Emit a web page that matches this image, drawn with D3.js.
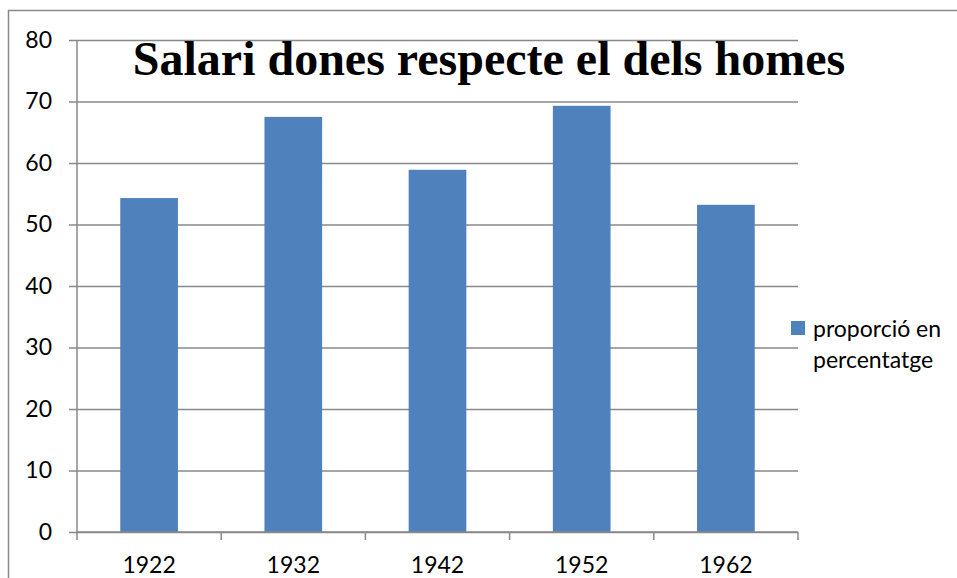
<!DOCTYPE html>
<html>
<head>
<meta charset="utf-8">
<script src="https://cdn.jsdelivr.net/npm/d3@7"></script>
<style>
  body { margin: 0; background: #fff; }
</style>
</head>
<body>
<div id="chart"></div>
<script>
var years = ["1922", "1932", "1942", "1952", "1962"],
    values = [54.3, 67.5, 58.9, 69.3, 53.2],
    yTicks = [0, 10, 20, 30, 40, 50, 60, 70, 80];

var title = "Salari dones respecte el dels homes",
    legendLines = ["proporció en", "percentatge"];

var width = 957, height = 578,
    plotLeft = 77, plotRight = 798, plotTop = 40, plotBottom = 532,
    barColor = "#4F81BD", lineColor = "#898989",
    labelFont = "Lato, 'Open Sans', sans-serif";

var svg = d3.select("#chart").append("svg")
    .attr("width", width)
    .attr("height", height);

// outer chart border (right & bottom fall outside the crop)
svg.append("rect")
    .attr("x", 8.5).attr("y", 10.5)
    .attr("width", 1000).attr("height", 1000)
    .attr("fill", "none")
    .attr("stroke", lineColor)
    .attr("stroke-width", 1.5);

var x = d3.scaleBand()
    .domain(years)
    .range([plotLeft, plotRight])
    .paddingInner(0.6)
    .paddingOuter(0.3);

var y = d3.scaleLinear()
    .domain([0, 80])
    .range([plotBottom, plotTop]);

// gridlines + y ticks
var yAxis = svg.append("g")
    .attr("transform", "translate(" + plotLeft + ",0)")
    .call(d3.axisLeft(y).tickValues(yTicks).tickSize(8));

yAxis.select(".domain").remove();
yAxis.selectAll(".tick line")
    .attr("x1", -8).attr("x2", plotRight - plotLeft)
    .attr("stroke", lineColor).attr("stroke-width", 1.5);
yAxis.selectAll(".tick text")
    .attr("x", -25)
    .attr("fill", "#000")
    .style("font-family", labelFont)
    .style("font-size", "23px");

// y axis line
svg.append("line")
    .attr("x1", plotLeft).attr("x2", plotLeft)
    .attr("y1", plotTop).attr("y2", plotBottom)
    .attr("stroke", lineColor).attr("stroke-width", 1.5);

// bars
svg.selectAll(".bar")
    .data(values)
    .enter().append("rect")
    .attr("class", "bar")
    .attr("x", function(d, i) { return x(years[i]); })
    .attr("y", function(d) { return y(d); })
    .attr("width", x.bandwidth())
    .attr("height", function(d) { return y(0) - y(d); })
    .attr("fill", barColor);

// x axis
var boundaries = d3.range(years.length + 1).map(function(i) {
  return plotLeft + i * (plotRight - plotLeft) / years.length;
});

svg.append("line")
    .attr("x1", plotLeft).attr("x2", plotRight)
    .attr("y1", plotBottom).attr("y2", plotBottom)
    .attr("stroke", lineColor).attr("stroke-width", 1.5);

svg.selectAll(".xtick")
    .data(boundaries)
    .enter().append("line")
    .attr("class", "xtick")
    .attr("x1", function(d) { return d; }).attr("x2", function(d) { return d; })
    .attr("y1", plotBottom).attr("y2", plotBottom + 8)
    .attr("stroke", lineColor).attr("stroke-width", 1.5);

svg.selectAll(".xlabel")
    .data(years)
    .enter().append("text")
    .attr("class", "xlabel")
    .attr("x", function(d) { return x(d) + x.bandwidth() / 2; })
    .attr("y", 573)
    .attr("text-anchor", "middle")
    .style("font-family", labelFont)
    .style("font-size", "23px")
    .text(function(d) { return d; });

// title
svg.append("text")
    .attr("x", 489)
    .attr("y", 75)
    .attr("text-anchor", "middle")
    .style("font-family", "'Liberation Serif', 'DejaVu Serif', serif")
    .style("font-weight", "bold")
    .style("font-size", "48px")
    .text(title);

// legend
svg.append("rect")
    .attr("x", 791).attr("y", 321)
    .attr("width", 14).attr("height", 14)
    .attr("fill", barColor);

svg.selectAll(".legend")
    .data(legendLines)
    .enter().append("text")
    .attr("class", "legend")
    .attr("x", 813)
    .attr("y", function(d, i) { return 337 + i * 31; })
    .style("font-family", labelFont)
    .style("font-size", "23px")
    .text(function(d) { return d; });
</script>
</body>
</html>
